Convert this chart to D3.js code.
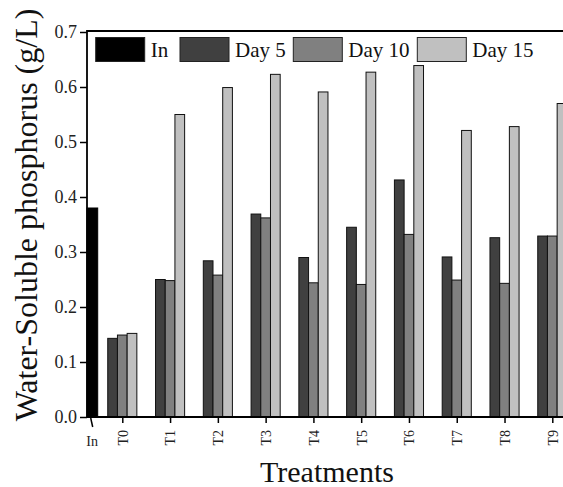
<!DOCTYPE html>
<html>
<head>
<meta charset="utf-8">
<script src="https://cdn.jsdelivr.net/npm/d3@7"></script>
<style>
  body { margin: 0; background: #fff; }
  svg { display: block; font-family: "Liberation Serif", "Times New Roman", serif; }
</style>
</head>
<body>
<div class="chart"></div>
<script>
// values
var treatments = ["T0", "T1", "T2", "T3", "T4", "T5", "T6", "T7", "T8", "T9"];
var inValue = 0.38;
var day5  = [0.143, 0.250, 0.284, 0.369, 0.290, 0.345, 0.431, 0.291, 0.326, 0.329];
var day10 = [0.149, 0.248, 0.258, 0.362, 0.244, 0.241, 0.332, 0.249, 0.243, 0.329];
var day15 = [0.152, 0.550, 0.599, 0.623, 0.591, 0.627, 0.639, 0.521, 0.528, 0.570];
var yTicks = [0, 0.1, 0.2, 0.3, 0.4, 0.5, 0.6, 0.7];
var seriesNames = ["In", "Day 5", "Day 10", "Day 15"];
var seriesColors = ["#000000", "#404040", "#808080", "#c0c0c0"];

var width = 563, height = 487;
var plotLeft = 87, plotTop = 31, plotBottom = 417, plotRight = 600;

var svg = d3.select(".chart").append("svg")
    .attr("width", width)
    .attr("height", height);

var y = d3.scaleLinear().domain([0, 0.7]).range([plotBottom, plotTop + 1]);
// treatments sit on an index scale, "In" is squeezed in just right of the axis
var x = d3.scaleLinear().domain([0, treatments.length - 1]).range([122.3, 552.3]);
var inPos = -0.63;
var barW = 9.7;

/*************  bars ***************/
var series = [day5, day10, day15];
var groups = svg.append("g").attr("class", "bars");
series.forEach(function(vals, s) {
    groups.selectAll(".bar-" + s)
        .data(vals)
        .enter().append("rect")
        .attr("class", "bar-" + s)
        .attr("x", function(d, i) { return x(i) + (s - 1.5) * barW; })
        .attr("y", function(d) { return y(d); })
        .attr("width", barW)
        .attr("height", function(d) { return y(0) - y(d); })
        .attr("fill", seriesColors[s + 1])
        .attr("stroke", "#111")
        .attr("stroke-width", 1);
});

groups.append("rect")
    .attr("x", plotLeft)
    .attr("y", y(inValue))
    .attr("width", x(inPos) + 5.5 - plotLeft)
    .attr("height", y(0) - y(inValue))
    .attr("fill", seriesColors[0])
    .attr("stroke", "#000");

/*************  frame + axes ***************/
svg.append("path")
    .attr("d", "M" + plotRight + "," + plotTop + "H" + plotLeft + "V" + plotBottom + "H" + plotRight)
    .attr("fill", "none")
    .attr("stroke", "#000")
    .attr("stroke-width", 1.8);

var yAxis = svg.append("g")
    .attr("transform", "translate(" + plotLeft + ",0)")
    .call(d3.axisLeft(y).tickValues(yTicks).tickSize(7).tickPadding(3)
        .tickFormat(d3.format(".1f")));
yAxis.select(".domain").remove();
yAxis.selectAll("line").attr("stroke-width", 1.5);
yAxis.selectAll("text")
    .attr("font-family", "Liberation Serif")
    .attr("font-size", 18)
    .attr("fill", "#222");

var xAxis = svg.append("g")
    .attr("transform", "translate(0," + plotBottom + ")")
    .call(d3.axisBottom(x).tickValues(d3.range(treatments.length)).tickSize(6)
        .tickFormat(function(d) { return treatments[d]; }));
xAxis.select(".domain").remove();
xAxis.selectAll("line").attr("stroke-width", 1.5);
xAxis.selectAll("text")
    .attr("font-family", "Liberation Serif")
    .attr("font-size", 14)
    .attr("fill", "#222")
    .attr("text-anchor", "end")
    .attr("dy", "0.35em")
    .attr("transform", "translate(0,13) rotate(-90)")
    .attr("y", 0)
    .attr("x", 0);

// the odd slanted "In" tick
svg.append("line")
    .attr("x1", x(inPos) - 1.5).attr("y1", plotBottom + 1)
    .attr("x2", x(inPos) + 0.5).attr("y2", plotBottom + 10)
    .attr("stroke", "#000")
    .attr("stroke-width", 1.5);
svg.append("text")
    .attr("x", x(inPos))
    .attr("y", 446)
    .attr("text-anchor", "middle")
    .attr("font-size", 14)
    .attr("fill", "#222")
    .text("In");

/*************  titles ***************/
svg.append("text")
    .attr("transform", "translate(37,215) rotate(-90)")
    .attr("text-anchor", "middle")
    .attr("font-size", 32)
    .attr("fill", "#111")
    .text("Water-Soluble phosphorus (g/L)");

svg.append("text")
    .attr("x", 327)
    .attr("y", 482)
    .attr("text-anchor", "middle")
    .attr("font-size", 30)
    .attr("fill", "#111")
    .text("Treatments");

/*************  legend ***************/
var legendX = [95.7, 180, 293.3, 417.3];
var legend = svg.append("g").attr("class", "legend")
    .selectAll("g")
    .data(seriesNames)
    .enter().append("g")
    .attr("transform", function(d, i) { return "translate(" + legendX[i] + ",37.5)"; });
legend.append("rect")
    .attr("width", 49)
    .attr("height", 24)
    .attr("fill", function(d, i) { return seriesColors[i]; })
    .attr("stroke", "#222")
    .attr("stroke-width", 1);
legend.append("text")
    .attr("x", 55)
    .attr("y", 19)
    .attr("font-size", 21)
    .attr("fill", "#111")
    .text(function(d) { return d; });
</script>
</body>
</html>
